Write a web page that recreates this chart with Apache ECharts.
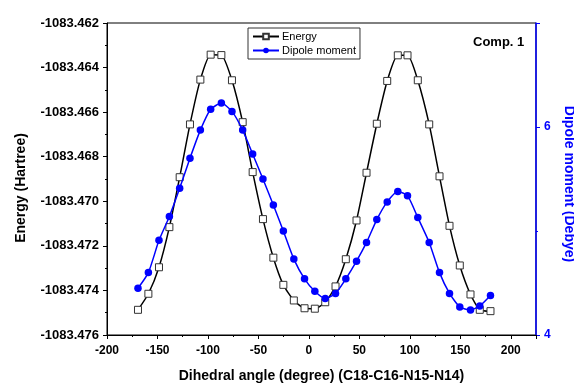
<!DOCTYPE html>
<html>
<head>
<meta charset="utf-8">
<script src="https://cdn.jsdelivr.net/npm/echarts@6/dist/echarts.min.js"></script>
<style>
  html, body { margin: 0; padding: 0; background: #fff; }
  #chart { width: 574px; height: 383px; }
</style>
</head>
<body>
<div id="chart"></div>
<script>
// dihedral angle scan (degree)
const angles = [-169.3, -159.0, -148.5, -138.2, -128.0, -117.8, -107.5, -97.3, -86.7, -76.2,
  -65.6, -55.7, -45.5, -35.2, -25.3, -14.9, -4.3, 5.9, 16.2, 26.4,
  36.6, 47.2, 57.1, 67.3, 77.6, 88.1, 97.7, 107.9, 119.2, 129.4,
  139.3, 149.5, 160.1, 169.3, 179.9];

// Hartree
const energy = [-1083.47487, -1083.47415, -1083.47296, -1083.47116, -1083.46892, -1083.46655, -1083.46454, -1083.46342, -1083.46344, -1083.46457,
  -1083.46645, -1083.46869, -1083.47080, -1083.47253, -1083.47375, -1083.47445, -1083.47480, -1083.47482, -1083.47453, -1083.47382,
  -1083.47260, -1083.47086, -1083.46872, -1083.46652, -1083.46460, -1083.46345, -1083.46345, -1083.46457, -1083.46655, -1083.46888,
  -1083.47110, -1083.47288, -1083.47418, -1083.47487, -1083.47493];

// Debye
const dipole = [4.45, 4.60, 4.91, 5.14, 5.41, 5.70, 5.97, 6.17, 6.23, 6.15,
  5.97, 5.74, 5.50, 5.25, 5.00, 4.73, 4.54, 4.42, 4.35, 4.40,
  4.54, 4.71, 4.89, 5.11, 5.28, 5.38, 5.34, 5.13, 4.89, 4.60,
  4.40, 4.27, 4.24, 4.28, 4.38];

const font = "'Liberation Sans', Arial, sans-serif";
const blue = "#0000ff";

const chart = echarts.init(document.getElementById("chart"));

const option = {
  animation: false,
  textStyle: { fontFamily: font },
  title: {
    text: "Comp. 1",
    left: 473,
    top: 36,
    padding: 0,
    textStyle: { fontSize: 13, fontWeight: "bold", color: "#000", fontFamily: font },
  },
  legend: {
    left: 248,
    top: 28,
    orient: "vertical",
    borderColor: "#333",
    borderWidth: 1,
    borderRadius: 0,
    padding: [3, 4, 3, 4],
    itemGap: 3,
    itemWidth: 26,
    itemHeight: 7,
    textStyle: { fontSize: 11, color: "#000", fontFamily: font, padding: [0, 0, 0, -2] },
    data: ["Energy", "Dipole moment"],
  },
  grid: {
    left: 107,
    right: 38,
    top: 23,
    bottom: 48,
    outerBoundsMode: "none",
    containLabel: false,
    show: true,
    borderColor: "#000",
    borderWidth: 1,
    backgroundColor: "transparent",
  },
  xAxis: {
    type: "value",
    min: -200,
    max: 225,
    interval: 50,
    name: "Dihedral angle (degree) (C18-C16-N15-N14)",
    nameLocation: "middle",
    nameGap: 34,
    nameTextStyle: { fontSize: 14, fontWeight: "bold", color: "#000", fontFamily: font },
    axisLine: { onZero: false, lineStyle: { color: "#000", width: 1 } },
    axisTick: { inside: false, length: 4, lineStyle: { color: "#000" } },
    minorTick: { show: true, splitNumber: 2, length: 2, lineStyle: { color: "#000" } },
    axisLabel: {
      showMaxLabel: false,
      margin: 10,
      fontSize: 12,
      fontWeight: "bold",
      color: "#000",
      fontFamily: font,
    },
    splitLine: { show: false },
  },
  yAxis: [
    {
      type: "value",
      min: -1083.476,
      max: -1083.462,
      interval: 0.002,
      name: "Energy (Hartree)",
      nameLocation: "middle",
      nameGap: 79,
      nameTextStyle: {
        fontSize: 14, fontWeight: "bold", color: "#000", fontFamily: font,
        padding: [0, 18, 0, 0],
      },
      axisLine: { show: true, onZero: false, lineStyle: { color: "#000", width: 1 } },
      axisTick: { show: true, length: 4, lineStyle: { color: "#000" } },
      minorTick: { show: true, splitNumber: 2, length: 2, lineStyle: { color: "#000" } },
      axisLabel: {
        margin: 8,
        fontSize: 13,
        fontWeight: "bold",
        color: "#000",
        fontFamily: font,
        formatter: (v) => v.toFixed(3),
      },
      splitLine: { show: false },
    },
    {
      type: "value",
      position: "right",
      min: 4,
      max: 7,
      interval: 2,
      name: "Dipole moment (Debye)",
      nameLocation: "middle",
      nameRotate: -90,
      nameGap: 26,
      nameTextStyle: {
        fontSize: 14, fontWeight: "bold", color: blue, fontFamily: font,
        padding: [0, 0, 0, 10],
      },
      axisLine: { show: true, onZero: false, lineStyle: { color: blue, width: 1.5 } },
      axisTick: { show: true, length: 4, lineStyle: { color: blue } },
      minorTick: { show: true, splitNumber: 2, length: 2, lineStyle: { color: blue } },
      axisLabel: {
        showMaxLabel: false,
        margin: 8,
        fontSize: 12,
        fontWeight: "bold",
        color: blue,
        fontFamily: font,
      },
      splitLine: { show: false },
    },
  ],
  series: [
    {
      name: "Energy",
      type: "line",
      yAxisIndex: 0,
      smooth: 0.2,
      symbol: "rect",
      symbolSize: 7,
      lineStyle: { color: "#000", width: 1.5 },
      itemStyle: { color: "#fff", borderColor: "#333", borderWidth: 1 },
      z: 3,
      data: angles.map((a, i) => [a, energy[i]]),
    },
    {
      name: "Dipole moment",
      type: "line",
      yAxisIndex: 1,
      smooth: 0.2,
      symbol: "circle",
      symbolSize: 7.5,
      lineStyle: { color: blue, width: 1.5 },
      itemStyle: { color: blue, borderColor: blue, borderWidth: 0 },
      z: 4,
      data: angles.map((a, i) => [a, dipole[i]]),
    },
  ],
};

chart.setOption(option);
</script>
</body>
</html>
